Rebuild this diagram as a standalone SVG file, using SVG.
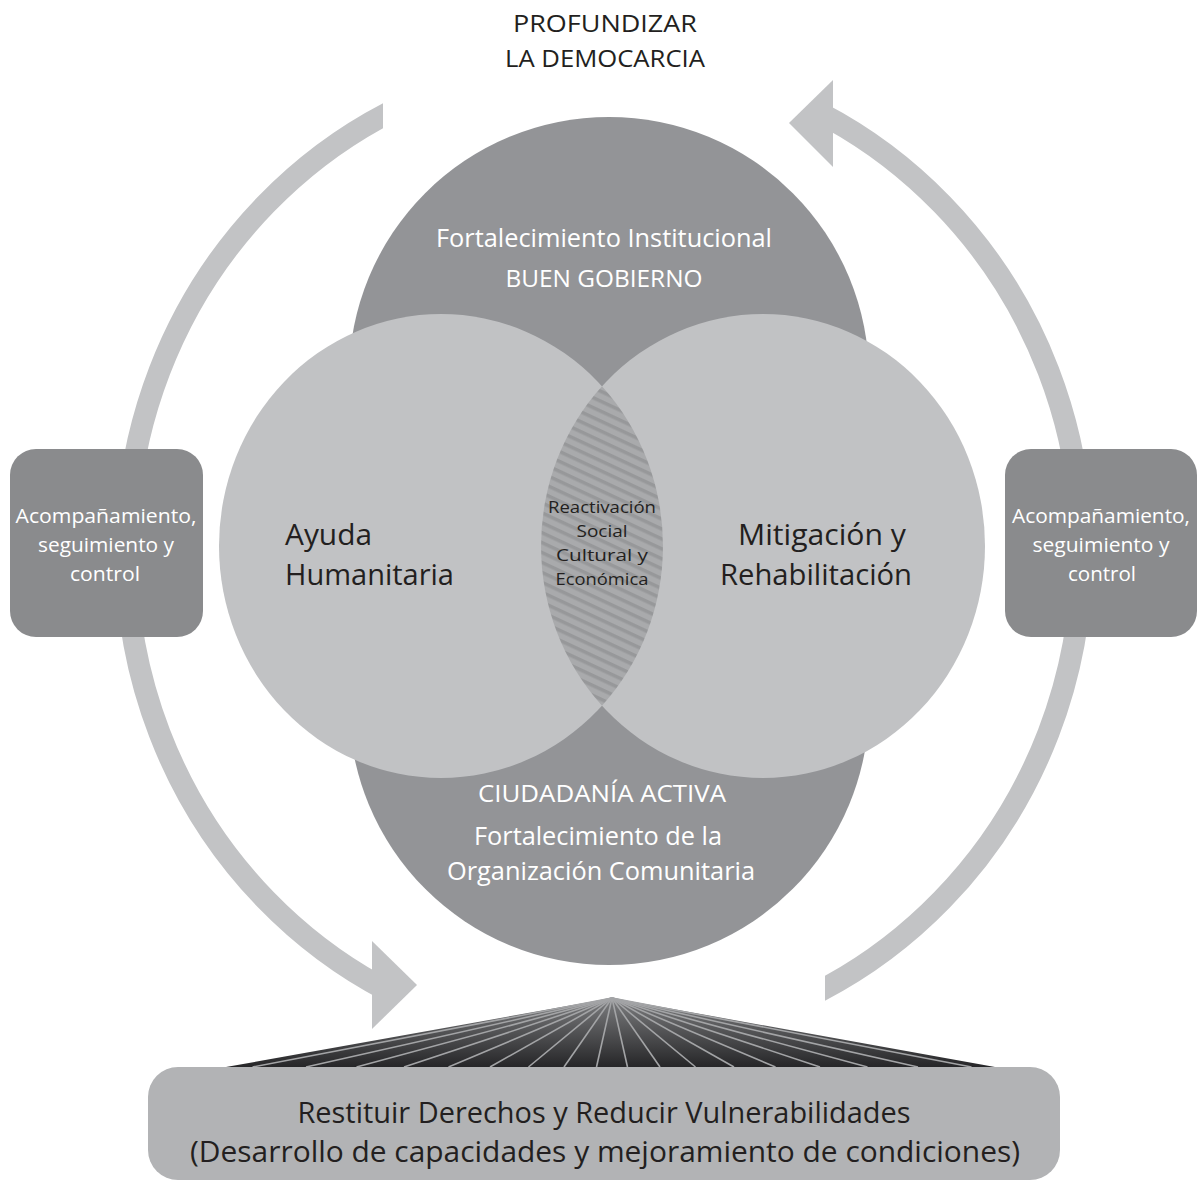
<svg xmlns="http://www.w3.org/2000/svg" width="1197" height="1182" viewBox="0 0 1197 1182">
  <defs>
    <style>
      text { font-family: "Open Sans", "Liberation Sans", sans-serif; text-anchor: middle; }
      .dark { fill: #231f20; }
      .white { fill: #ffffff; }
      .outer { fill: #939497; }
      .inner { fill: #c1c2c4; }
      .side { fill: #8a8b8d; }
      .arrow { fill: #c2c3c5; }
      .ray { stroke: #a3a4a6; stroke-width: 1.6; }
    </style>
    <pattern id="hatch" width="9" height="9" patternUnits="userSpaceOnUse" patternTransform="rotate(25)">
      <rect width="9" height="9" fill="#a9aaac"/>
      <rect width="9" height="3.5" fill="#97989a"/>
    </pattern>
    <linearGradient id="fanGrad" x1="0" y1="998" x2="0" y2="1067" gradientUnits="userSpaceOnUse">
      <stop offset="0" stop-color="#7d7e80"/>
      <stop offset="1" stop-color="#262628"/>
    </linearGradient>
    <clipPath id="ringSides">
      <rect x="0" y="0" width="383" height="1182"/>
      <rect x="825" y="0" width="372" height="1182"/>
    </clipPath>
  </defs>

  <rect width="1197" height="1182" fill="#ffffff"/>

  <!-- cycle arrows around the diagram -->
  <g id="connectors">
    <ellipse cx="604" cy="552" rx="478" ry="492" fill="none" stroke="#c2c3c5" stroke-width="22" clip-path="url(#ringSides)"/>
    <polygon class="arrow" points="372,941 417,985 372,1029"/>
    <polygon class="arrow" points="833,80 789,123 833,167"/>
  </g>

  <g id="title">
    <text class="dark" x="605" y="32" font-size="24" textLength="184" lengthAdjust="spacingAndGlyphs">PROFUNDIZAR</text>
    <text class="dark" x="605" y="67" font-size="24" textLength="200" lengthAdjust="spacingAndGlyphs">LA DEMOCARCIA</text>
  </g>

  <g id="buen-gobierno">
    <circle class="outer" cx="609" cy="377" r="260"/>
    <text class="white" x="604" y="247" font-size="25" textLength="336" lengthAdjust="spacingAndGlyphs">Fortalecimiento Institucional</text>
    <text class="white" x="604" y="287" font-size="23" textLength="197" lengthAdjust="spacingAndGlyphs">BUEN GOBIERNO</text>
  </g>

  <g id="ciudadania-activa">
    <circle class="outer" cx="609" cy="705" r="260"/>
  </g>

  <g id="ayuda-humanitaria">
    <ellipse class="inner" cx="441" cy="546" rx="222" ry="232"/>
  </g>

  <g id="mitigacion">
    <ellipse class="inner" cx="763" cy="546" rx="222" ry="232"/>
  </g>

  <g id="reactivacion">
    <path d="M602,386.3 A222,232 0 0 1 602,705.7 A222,232 0 0 1 602,386.3 Z" fill="url(#hatch)"/>
    <text class="dark" x="602" y="513" font-size="17" textLength="108" lengthAdjust="spacingAndGlyphs">Reactivación</text>
    <text class="dark" x="602" y="537" font-size="17" textLength="51" lengthAdjust="spacingAndGlyphs">Social</text>
    <text class="dark" x="602" y="561" font-size="17" textLength="92" lengthAdjust="spacingAndGlyphs">Cultural y</text>
    <text class="dark" x="602" y="585" font-size="17" textLength="93" lengthAdjust="spacingAndGlyphs">Económica</text>
  </g>

  <g id="labels-circles">
    <text class="dark" x="285" y="545" font-size="30" style="text-anchor:start" textLength="87" lengthAdjust="spacingAndGlyphs">Ayuda</text>
    <text class="dark" x="285" y="585" font-size="30" style="text-anchor:start" textLength="169" lengthAdjust="spacingAndGlyphs">Humanitaria</text>
    <text class="dark" x="822" y="545" font-size="30" textLength="168" lengthAdjust="spacingAndGlyphs">Mitigación y</text>
    <text class="dark" x="816" y="585" font-size="30" textLength="192" lengthAdjust="spacingAndGlyphs">Rehabilitación</text>
    <text class="white" x="602" y="802" font-size="23" textLength="248" lengthAdjust="spacingAndGlyphs">CIUDADANÍA ACTIVA</text>
    <text class="white" x="598" y="845" font-size="25" textLength="248" lengthAdjust="spacingAndGlyphs">Fortalecimiento de la</text>
    <text class="white" x="601" y="880" font-size="25" textLength="308" lengthAdjust="spacingAndGlyphs">Organización Comunitaria</text>
  </g>

  <g id="control-left">
    <rect class="side" x="10" y="449" width="193" height="188" rx="26"/>
    <text class="white" x="106" y="523" font-size="20" textLength="181" lengthAdjust="spacingAndGlyphs">Acompañamiento,</text>
    <text class="white" x="106" y="552" font-size="20" textLength="136" lengthAdjust="spacingAndGlyphs">seguimiento y</text>
    <text class="white" x="105" y="581" font-size="20" textLength="70" lengthAdjust="spacingAndGlyphs">control</text>
  </g>

  <g id="control-right">
    <rect class="side" x="1005" y="449" width="192" height="188" rx="26"/>
    <text class="white" x="1101" y="523" font-size="20" textLength="178" lengthAdjust="spacingAndGlyphs">Acompañamiento,</text>
    <text class="white" x="1101" y="552" font-size="20" textLength="137" lengthAdjust="spacingAndGlyphs">seguimiento y</text>
    <text class="white" x="1102" y="581" font-size="20" textLength="68" lengthAdjust="spacingAndGlyphs">control</text>
  </g>

  <!-- radiating fan resting on the base box -->
  <g id="fan">
    <polygon points="612,998 226,1067 995,1067" fill="url(#fanGrad)"/>
    <g class="ray">
      <line x1="612" y1="998" x2="596.5" y2="1067"/>
      <line x1="612" y1="998" x2="627.5" y2="1067"/>
      <line x1="612" y1="998" x2="564" y2="1067"/>
      <line x1="612" y1="998" x2="660" y2="1067"/>
      <line x1="612" y1="998" x2="528.5" y2="1067"/>
      <line x1="612" y1="998" x2="695.5" y2="1067"/>
      <line x1="612" y1="998" x2="490" y2="1067"/>
      <line x1="612" y1="998" x2="734" y2="1067"/>
      <line x1="612" y1="998" x2="448.5" y2="1067"/>
      <line x1="612" y1="998" x2="775.5" y2="1067"/>
      <line x1="612" y1="998" x2="404" y2="1067"/>
      <line x1="612" y1="998" x2="820" y2="1067"/>
      <line x1="612" y1="998" x2="356.5" y2="1067"/>
      <line x1="612" y1="998" x2="867.5" y2="1067"/>
      <line x1="612" y1="998" x2="306" y2="1067"/>
      <line x1="612" y1="998" x2="918" y2="1067"/>
      <line x1="612" y1="998" x2="252.5" y2="1067"/>
      <line x1="612" y1="998" x2="971.5" y2="1067"/>
    </g>
  </g>

  <g id="restituir">
    <rect x="148" y="1067" width="912" height="113" rx="30" fill="#b2b3b5"/>
    <text class="dark" x="604" y="1123" font-size="30" textLength="613" lengthAdjust="spacingAndGlyphs">Restituir Derechos y Reducir Vulnerabilidades</text>
    <text class="dark" x="605" y="1162" font-size="30" textLength="830" lengthAdjust="spacingAndGlyphs">(Desarrollo de capacidades y mejoramiento de condiciones)</text>
  </g>
</svg>
